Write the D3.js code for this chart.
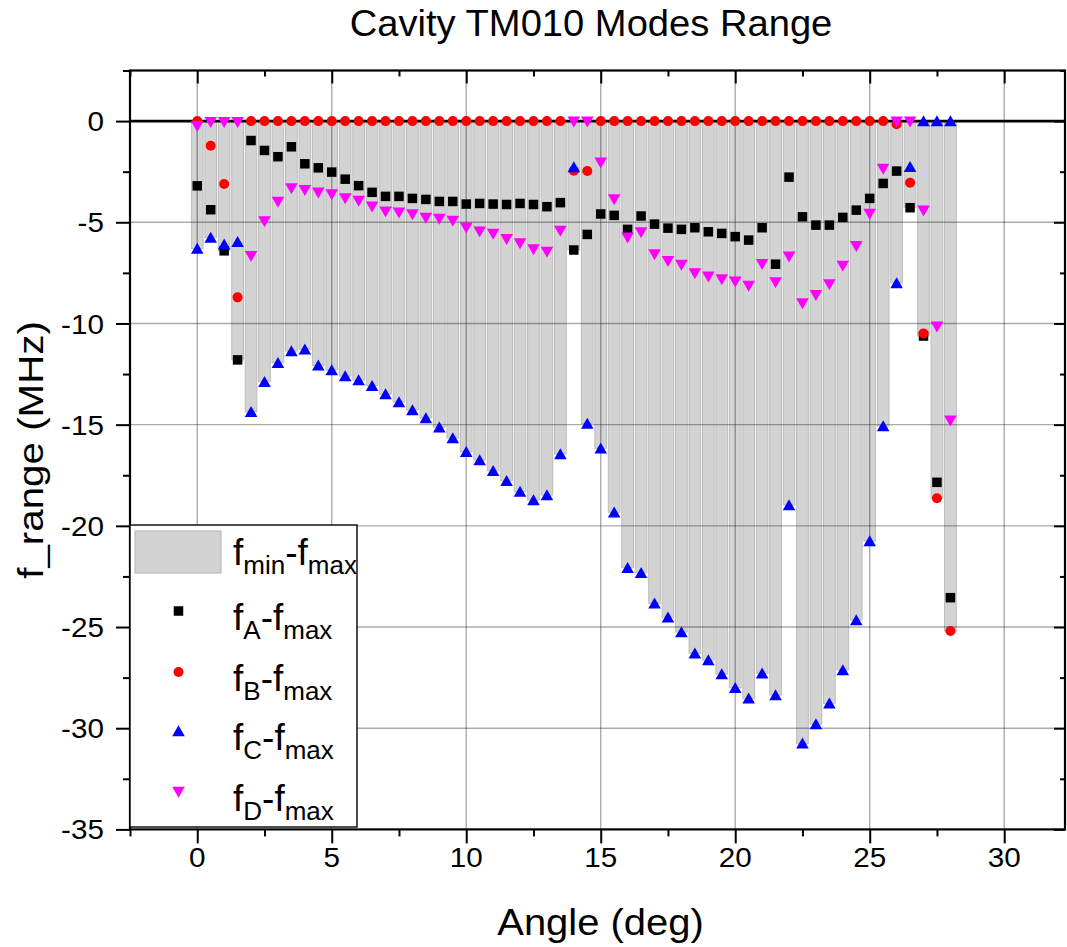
<!DOCTYPE html>
<html>
<head>
<meta charset="utf-8">
<script src="https://cdn.jsdelivr.net/npm/d3@7"></script>
<style>
  body { margin: 0; background: #fff; }
  text { font-family: "Liberation Sans", Arial, sans-serif; fill: #000; }
</style>
</head>
<body>
<svg id="chart" width="1067" height="947"></svg>
<script>
// Angle steps (deg)
const angles = [0, 0.5, 1, 1.5, 2, 2.5, 3, 3.5, 4, 4.5, 5, 5.5, 6, 6.5, 7, 7.5, 8, 8.5, 9, 9.5,
  10, 10.5, 11, 11.5, 12, 12.5, 13, 13.5, 14, 14.5, 15, 15.5, 16, 16.5, 17, 17.5, 18, 18.5, 19, 19.5,
  20, 20.5, 21, 21.5, 22, 22.5, 23, 23.5, 24, 24.5, 25, 25.5, 26, 26.5, 27, 27.5, 28];

// Mode frequency offsets relative to f_max (MHz)
const fA = [-3.2, -4.38, -6.41, -11.8, -0.96, -1.45, -1.76, -1.27, -2.11, -2.31, -2.52, -2.87, -3.19, -3.52, -3.72, -3.72, -3.82, -3.87, -3.97, -3.97,
  -4.10, -4.07, -4.10, -4.12, -4.07, -4.12, -4.23, -4.03, -6.37, -5.60, -4.59, -4.66, -5.35, -4.69, -5.09, -5.29, -5.35, -5.27, -5.47, -5.55,
  -5.71, -5.88, -5.27, -7.07, -2.77, -4.73, -5.14, -5.14, -4.76, -4.40, -3.82, -3.08, -2.47, -4.28, -10.62, -17.85, -23.55];
const fB = [0, -1.22, -3.11, -8.71, 0, 0, 0, 0, 0, 0, 0, 0, 0, 0, 0, 0, 0, 0, 0, 0,
  0, 0, 0, 0, 0, 0, 0, 0, -2.45, -2.47, 0, 0, 0, 0, 0, 0, 0, 0, 0, 0,
  0, 0, 0, 0, 0, 0, 0, 0, 0, 0, 0, 0, -0.16, -3.05, -10.49, -18.64, -25.2];
const fC = [-6.3, -5.76, -6.09, -5.96, -14.36, -12.88, -11.94, -11.36, -11.28, -12.07, -12.30, -12.6, -12.8, -13.08, -13.49, -13.88, -14.28, -14.67, -15.13, -15.66,
  -16.34, -16.75, -17.28, -17.77, -18.31, -18.72, -18.48, -16.45, -2.27, -14.94, -16.17, -19.33, -22.07, -22.32, -23.83, -24.52, -25.25, -26.30, -26.63, -27.32,
  -28.0, -28.52, -27.29, -28.36, -18.97, -30.75, -29.79, -28.77, -27.12, -24.65, -20.75, -15.07, -8.0, -2.26, 0, 0, 0];
const fD = [-0.25, -0.05, -0.05, -0.05, -6.67, -4.96, -3.99, -3.33, -3.41, -3.54, -3.62, -3.82, -3.94, -4.23, -4.48, -4.53, -4.61, -4.78, -4.84, -4.94,
  -5.27, -5.47, -5.58, -5.83, -6.04, -6.34, -6.46, -5.43, -0.03, -0.03, -2.06, -3.87, -5.76, -5.50, -6.59, -6.92, -7.11, -7.53, -7.69, -7.82,
  -7.94, -8.14, -7.07, -7.97, -6.70, -9.01, -8.60, -8.07, -7.16, -6.18, -4.59, -2.37, -0.03, -0.03, -4.43, -10.16, -14.81];

const xTicks = [0, 5, 10, 15, 20, 25, 30];
const xMinor = [-2.5, 2.5, 7.5, 12.5, 17.5, 22.5, 27.5];
const yTicks = [0, -5, -10, -15, -20, -25, -30, -35];
const yMinor = [2.5, -2.5, -7.5, -12.5, -17.5, -22.5, -27.5, -32.5];

const titleText = "Cavity TM010 Modes Range";
const xLabel = "Angle (deg)";
const yLabel = "f_range (MHz)";

// ---- layout ----
const svg = d3.select("#chart");
const plot = { left: 130, right: 1065, top: 70.5, bottom: 829.4 };

const x = d3.scaleLinear().domain([-2.5, 32.26]).range([plot.left, plot.right]);
const y = d3.scaleLinear().domain([-35, 2.5]).range([plot.bottom, plot.top]);

const rows = angles.map((a, i) => ({
  a, A: fA[i], B: fB[i], C: fC[i], D: fD[i],
  lo: Math.min(0, fA[i], fB[i], fC[i], fD[i])
}));

svg.append("rect").attr("width", 1067).attr("height", 947).attr("fill", "#fff");

// range bars (f_min .. f_max)
const barW = x(0.435) - x(0);
svg.append("g").selectAll("rect").data(rows).join("rect")
  .attr("x", d => x(d.a) - barW / 2)
  .attr("y", y(0))
  .attr("width", barW)
  .attr("height", d => y(d.lo) - y(0))
  .attr("fill", "#d3d3d3")
  .attr("stroke", "#bdbdbd")
  .attr("stroke-width", 1);

// grid
const grid = svg.append("g").attr("stroke", "#000").attr("stroke-opacity", 0.33).attr("stroke-width", 1.4);
grid.selectAll(".gx").data(xTicks).join("line")
  .attr("x1", d => x(d)).attr("x2", d => x(d))
  .attr("y1", plot.top).attr("y2", plot.bottom);
grid.selectAll(".gy").data(yTicks.filter(v => v !== 0 && v !== -35)).join("line")
  .attr("x1", plot.left).attr("x2", plot.right)
  .attr("y1", d => y(d)).attr("y2", d => y(d));

// zero line
svg.append("line")
  .attr("x1", plot.left).attr("x2", plot.right)
  .attr("y1", y(0)).attr("y2", y(0))
  .attr("stroke", "#000").attr("stroke-width", 2.6);

// axes (ticks only; labels drawn separately)
function tickAxis(axis, transform) {
  const g = svg.append("g").attr("transform", transform).call(axis);
  g.select(".domain").remove();
  g.selectAll(".tick line").attr("stroke", "#000").attr("stroke-width", 2);
  g.selectAll(".tick text").remove();
  return g;
}
const noLab = () => "";
tickAxis(d3.axisBottom(x).tickValues(xTicks).tickSize(14).tickFormat(noLab), `translate(0,${plot.bottom})`);
tickAxis(d3.axisBottom(x).tickValues(xMinor).tickSize(7).tickFormat(noLab), `translate(0,${plot.bottom})`);
tickAxis(d3.axisLeft(y).tickValues(yTicks).tickSize(14).tickFormat(noLab), `translate(${plot.left},0)`);
tickAxis(d3.axisLeft(y).tickValues(yMinor).tickSize(7).tickFormat(noLab), `translate(${plot.left},0)`);
tickAxis(d3.axisBottom(x).tickValues(xTicks).tickSize(13).tickFormat(noLab), `translate(0,${plot.top})`);
tickAxis(d3.axisBottom(x).tickValues(xMinor).tickSize(6).tickFormat(noLab), `translate(0,${plot.top})`);
tickAxis(d3.axisLeft(y).tickValues(yTicks).tickSize(11).tickFormat(noLab), `translate(${plot.right},0)`);
tickAxis(d3.axisLeft(y).tickValues(yMinor).tickSize(5).tickFormat(noLab), `translate(${plot.right},0)`);

// frame
svg.append("rect")
  .attr("x", plot.left).attr("y", plot.top)
  .attr("width", plot.right - plot.left).attr("height", plot.bottom - plot.top)
  .attr("fill", "none").attr("stroke", "#000").attr("stroke-width", 2.2);

// tick labels (plain hyphen for negatives)
const fmt = v => String(v);
svg.append("g").selectAll("text").data(yTicks).join("text")
  .attr("transform", d => `translate(104,${y(d)}) scale(1.06,1)`)
  .attr("text-anchor", "end").attr("dy", "0.36em")
  .style("font-size", "28px")
  .text(d => fmt(d));
svg.append("g").selectAll("text").data(xTicks).join("text")
  .attr("transform", d => `translate(${x(d)},867) scale(1.06,1)`)
  .attr("text-anchor", "middle")
  .style("font-size", "28px")
  .text(d => fmt(d));

// titles
svg.append("text")
  .attr("transform", "translate(591,36) scale(1.06,1)")
  .attr("text-anchor", "middle").style("font-size", "36px")
  .text(titleText);
svg.append("text")
  .attr("transform", `translate(${(plot.left + plot.right) / 2 + 3},935) scale(1.08,1)`)
  .attr("text-anchor", "middle").style("font-size", "37px")
  .text(xLabel);
svg.append("text")
  .attr("transform", `translate(43,${(plot.top + plot.bottom) / 2}) rotate(-90) scale(1.12,1)`)
  .attr("text-anchor", "middle").style("font-size", "36px")
  .text(yLabel);

// marker shapes
const sq = 9.5;
const triUp = (cx, cy) => `M${cx - 6.3},${cy + 5.2} L${cx + 6.3},${cy + 5.2} L${cx},${cy - 5.8} Z`;
const triDown = (cx, cy) => `M${cx - 6.3},${cy - 5.2} L${cx + 6.3},${cy - 5.2} L${cx},${cy + 5.8} Z`;

function drawSquares(g, data, xf, yf) {
  g.selectAll("rect").data(data).join("rect")
    .attr("x", d => xf(d) - sq / 2).attr("y", d => yf(d) - sq / 2)
    .attr("width", sq).attr("height", sq).attr("fill", "#000");
}
function drawCircles(g, data, xf, yf) {
  g.selectAll("circle").data(data).join("circle")
    .attr("cx", xf).attr("cy", yf).attr("r", 5).attr("fill", "#ff0000");
}
function drawUp(g, data, xf, yf) {
  g.selectAll("path").data(data).join("path")
    .attr("d", d => triUp(xf(d), yf(d))).attr("fill", "#0000ff");
}
function drawDown(g, data, xf, yf) {
  g.selectAll("path").data(data).join("path")
    .attr("d", d => triDown(xf(d), yf(d))).attr("fill", "#ff00ff");
}

const px = d => x(d.a);
drawSquares(svg.append("g"), rows, px, d => y(d.A));
drawCircles(svg.append("g"), rows, px, d => y(d.B));
drawUp(svg.append("g"), rows, px, d => y(d.C));
drawDown(svg.append("g"), rows, px, d => y(d.D));

// legend
const lg = svg.append("g");
lg.append("rect").attr("x", 130).attr("y", 525).attr("width", 227).attr("height", 302)
  .attr("fill", "#fff").attr("stroke", "#000").attr("stroke-width", 1.4);
lg.append("rect").attr("x", 135).attr("y", 531).attr("width", 86).attr("height", 42)
  .attr("fill", "#d3d3d3").attr("stroke", "#bdbdbd").attr("stroke-width", 1.2);

function legendLabel(yBase, sub) {
  const t = lg.append("text").attr("x", 233).attr("y", yBase).style("font-size", "37px");
  t.append("tspan").text("f");
  t.append("tspan").attr("dy", 9).style("font-size", "26px").text(sub);
  t.append("tspan").attr("dy", -9).text("-f");
  t.append("tspan").attr("dy", 9).style("font-size", "26px").text("max");
}
legendLabel(565, "min");

const legendItems = [
  { key: "A", cy: 611 },
  { key: "B", cy: 672 },
  { key: "C", cy: 731 },
  { key: "D", cy: 792 }
];
const lx = () => 178.5;
drawSquares(lg.append("g"), [legendItems[0]], lx, d => d.cy);
drawCircles(lg.append("g"), [legendItems[1]], lx, d => d.cy);
drawUp(lg.append("g"), [legendItems[2]], lx, d => d.cy);
drawDown(lg.append("g"), [legendItems[3]], lx, d => d.cy);
legendItems.forEach(it => legendLabel(it.cy + 19, it.key));
</script>
</body>
</html>
